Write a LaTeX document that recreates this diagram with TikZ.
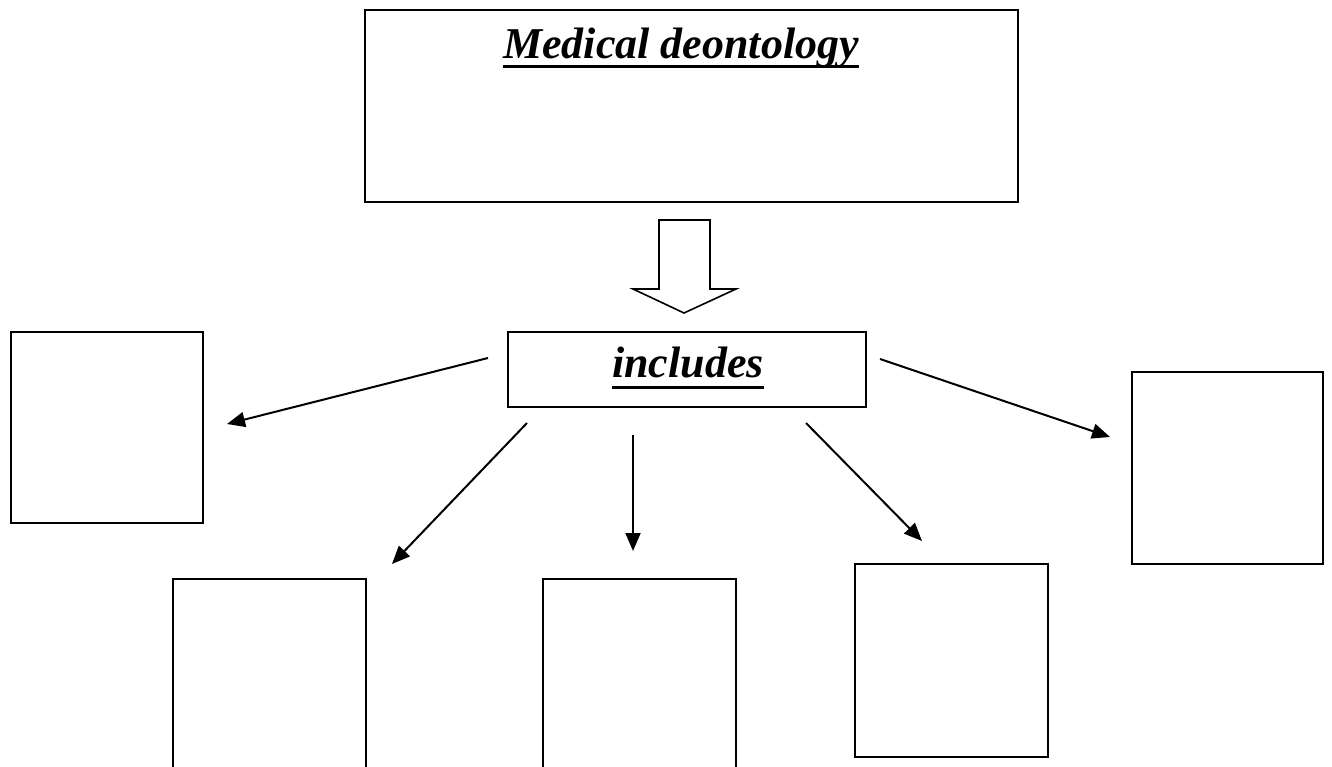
\documentclass[tikz,border=0pt]{standalone}
\usepackage{fontspec}
\setmainfont{Liberation Serif}
\usetikzlibrary{arrows.meta}
\tikzset{
  box/.style={draw, line width=1.8pt, inner sep=0pt, fill=none},
  conn/.style={line width=2pt, -{Triangle[length=18pt,width=15pt]}},
  title/.style={inner sep=0pt, anchor=base, font=\fontsize{44}{48}\selectfont\bfseries\itshape},
  uline/.style={line width=3pt}
}
\begin{document}
\begin{tikzpicture}[x=1pt,y=-1pt]
\useasboundingbox (0,0) rectangle (1332,767);
\clip (0,0) rectangle (1332,767);
\fill[white] (0,0) rectangle (1332,767);
% boxes
\node[box, minimum width=653pt, minimum height=192pt] (top) at (691.5,106) {};
\node[box, minimum width=358pt, minimum height=75pt] (inc) at (687,369.5) {};
\node[box, minimum width=192pt, minimum height=191pt] (L) at (107,427.5) {};
\node[box, minimum width=193pt, minimum height=400pt] (BL) at (269.5,779) {};
\node[box, minimum width=193pt, minimum height=400pt] (M) at (639.5,779) {};
\node[box, minimum width=193pt, minimum height=193pt] (BR) at (951.5,660.5) {};
\node[box, minimum width=191pt, minimum height=192pt] (R) at (1227.5,468) {};
% texts
\node[title] (t1) at (681,59) {Medical deontology};
\draw[uline] ([yshift=-8pt]t1.base west) -- ([yshift=-8pt]t1.base east);
\node[title] (t2) at (688,377) {includes};
\draw[uline] ([yshift=-10pt]t2.base west) -- ([yshift=-10pt]t2.base east);
% block arrow
\draw[line width=1.6pt, line join=miter] (659,220) -- (710,220) -- (710,289) -- (736,289) -- (684,313) -- (633,289) -- (659,289) -- cycle;
% connector ends
\coordinate (s1) at (488,358); \coordinate (e1) at (227,424);
\coordinate (s2) at (527,423); \coordinate (e2) at (392,564);
\coordinate (s3) at (633,435); \coordinate (e3) at (633,551);
\coordinate (s4) at (806,423); \coordinate (e4) at (922,541);
\coordinate (s5) at (880,359); \coordinate (e5) at (1110,437);
\draw[conn] (s1) -- (e1);
\draw[conn] (s2) -- (e2);
\draw[conn] (s3) -- (e3);
\draw[conn] (s4) -- (e4);
\draw[conn] (s5) -- (e5);
\end{tikzpicture}
\end{document}
